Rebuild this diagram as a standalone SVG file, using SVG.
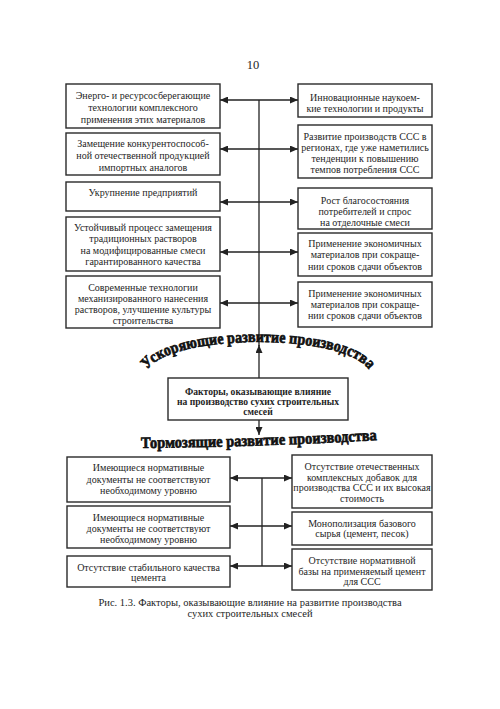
<svg xmlns="http://www.w3.org/2000/svg" width="500" height="709" viewBox="0 0 500 709">
<style>
.bg{fill:#fff}
.box{fill:#fff;stroke:#2a2a2a;stroke-width:1.4}
text{font-family:'Liberation Serif','Times New Roman','DejaVu Serif',serif}
.t{font-size:10px;text-anchor:middle;fill:#1e1e1e}
.tb{font-size:9.6px;font-weight:bold;text-anchor:middle;fill:#1e1e1e}
.ln{stroke:#222;stroke-width:1.3;fill:none}
.arr{marker-end:url(#ah)}
.dbl{marker-start:url(#ah);marker-end:url(#ah)}
.wa{font-size:16px;font-weight:bold;fill:#111;stroke:#111;stroke-width:0.7}
.cap{font-size:10.5px;text-anchor:middle;fill:#1e1e1e}
</style>
<defs>
<marker id="ah" markerUnits="userSpaceOnUse" markerWidth="9" markerHeight="7" refX="8" refY="3.5" orient="auto-start-reverse">
<path d="M0,0 L8,3.5 L0,7 z" fill="#222"/>
</marker>
<path id="arcTop" d="M146,372 C165,332 351,332 370,372"/>
<path id="arcBot" d="M140,448 Q260,447 378,440"/>
</defs>
<rect class="bg" x="0" y="0" width="500" height="709"/>
<text x="253" y="69" class="t" style="font-size:12.5px">10</text>

<g id="connectors">
<path class="ln" d="M259,346 V100"/>
<path class="ln arr" d="M259,378 V345"/>
<path class="ln dbl" d="M220,100 H298"/>
<path class="ln dbl" d="M220,149 H298"/>
<path class="ln dbl" d="M220,202 H298"/>
<path class="ln dbl" d="M220,252 H298"/>
<path class="ln dbl" d="M220,303 H298"/>
<path class="ln arr" d="M259,420 V435"/>
<path class="ln" d="M262,478 V566"/>
<path class="ln dbl" d="M230,478 H292"/>
<path class="ln dbl" d="M230,526 H292"/>
<path class="ln dbl" d="M230,566 H292"/>
</g>

<g id="label-accel">
<text class="wa"><textPath href="#arcTop" startOffset="50%" text-anchor="middle" textLength="234" lengthAdjust="spacingAndGlyphs">Ускоряющие развитие производства</textPath></text>
</g>
<g id="label-brake">
<text class="wa"><textPath href="#arcBot" startOffset="50%" text-anchor="middle" textLength="236" lengthAdjust="spacingAndGlyphs">Тормозящие развитие производства</textPath></text>
</g>

<g id="L1"><rect class="box" x="66" y="84" width="154" height="44"/>
<text class="t" x="143" y="98.5">Энерго- и ресурсосберегающие</text>
<text class="t" x="143" y="110.5">технологии комплексного</text>
<text class="t" x="143" y="122.5">применения этих материалов</text></g>
<g id="L2"><rect class="box" x="66" y="133" width="154" height="42"/>
<text class="t" x="143" y="146.5">Замещение конкурентоспособ-</text>
<text class="t" x="143" y="158.5">ной отечественной продукцией</text>
<text class="t" x="143" y="170.5">импортных аналогов</text></g>
<g id="L3"><rect class="box" x="66" y="182" width="154" height="29"/>
<text class="t" x="143" y="196">Укрупнение предприятий</text></g>
<g id="L4"><rect class="box" x="66" y="217" width="154" height="54"/>
<text class="t" x="143" y="230.5">Устойчивый процесс замещения</text>
<text class="t" x="143" y="242">традиционных растворов</text>
<text class="t" x="143" y="253.5">на модифицированные смеси</text>
<text class="t" x="143" y="265">гарантированного качества</text></g>
<g id="L5"><rect class="box" x="66" y="276" width="154" height="52"/>
<text class="t" x="143" y="290.5">Современные технологии</text>
<text class="t" x="143" y="301.5">механизированного нанесения</text>
<text class="t" x="143" y="312.5">растворов, улучшение культуры</text>
<text class="t" x="143" y="323.5">строительства</text></g>

<g id="R1"><rect class="box" x="298" y="84" width="134" height="33"/>
<text class="t" x="365" y="100.5">Инновационные наукоем-</text>
<text class="t" x="365" y="111.5">кие технологии и продукты</text></g>
<g id="R2"><rect class="box" x="298" y="125" width="134" height="53"/>
<text class="t" x="365" y="140">Развитие производств ССС в</text>
<text class="t" x="365" y="151">регионах, где уже наметились</text>
<text class="t" x="365" y="162">тенденции к повышению</text>
<text class="t" x="365" y="173">темпов потребления ССС</text></g>
<g id="R3"><rect class="box" x="298" y="188" width="134" height="41"/>
<text class="t" x="365" y="203.5">Рост благосостояния</text>
<text class="t" x="365" y="214.5">потребителей и спрос</text>
<text class="t" x="365" y="225.5">на отделочные смеси</text></g>
<g id="R4"><rect class="box" x="298" y="233" width="134" height="43"/>
<text class="t" x="365" y="246.5">Применение экономичных</text>
<text class="t" x="365" y="258">материалов при сокраще-</text>
<text class="t" x="365" y="269.5">нии сроков сдачи объектов</text></g>
<g id="R5"><rect class="box" x="298" y="282" width="134" height="45"/>
<text class="t" x="365" y="296.5">Применение экономичных</text>
<text class="t" x="365" y="307.5">материалов при сокраще-</text>
<text class="t" x="365" y="318.5">нии сроков сдачи объектов</text></g>

<g id="center"><rect class="box" x="168" y="378" width="180" height="42"/>
<text class="tb" x="258" y="394.5">Факторы, оказывающие влияние</text>
<text class="tb" x="258" y="404.5">на производство сухих строительных</text>
<text class="tb" x="258" y="414.5">смесей</text></g>

<g id="BL1"><rect class="box" x="67" y="457" width="163" height="45"/>
<text class="t" x="148.5" y="470.5">Имеющиеся нормативные</text>
<text class="t" x="148.5" y="482.5">документы не соответствуют</text>
<text class="t" x="148.5" y="494">необходимому уровню</text></g>
<g id="BL2"><rect class="box" x="67" y="506" width="163" height="42"/>
<text class="t" x="148.5" y="520.5">Имеющиеся нормативные</text>
<text class="t" x="148.5" y="531.5">документы не соответствуют</text>
<text class="t" x="148.5" y="542.5">необходимому уровню</text></g>
<g id="BL3"><rect class="box" x="67" y="556" width="163" height="31"/>
<text class="t" x="148.5" y="570.5">Отсутствие стабильного качества</text>
<text class="t" x="148.5" y="580.5">цемента</text></g>

<g id="BR1"><rect class="box" x="292" y="455" width="140" height="53"/>
<text class="t" x="362" y="469.5">Отсутствие отечественных</text>
<text class="t" x="362" y="480.5">комплексных добавок для</text>
<text class="t" x="362" y="491">производства ССС и их высокая</text>
<text class="t" x="362" y="501.5">стоимость</text></g>
<g id="BR2"><rect class="box" x="292" y="512" width="140" height="33"/>
<text class="t" x="362" y="526.5">Монополизация базового</text>
<text class="t" x="362" y="537">сырья (цемент, песок)</text></g>
<g id="BR3"><rect class="box" x="292" y="549" width="140" height="41"/>
<text class="t" x="362" y="563.5">Отсутствие нормативной</text>
<text class="t" x="362" y="574.5">базы на применяемый цемент</text>
<text class="t" x="362" y="584.5">для ССС</text></g>

<g id="caption">
<text class="cap" x="250" y="606">Рис. 1.3. Факторы, оказывающие влияние на развитие производства</text>
<text class="cap" x="250" y="617">сухих строительных смесей</text>
</g>
</svg>
